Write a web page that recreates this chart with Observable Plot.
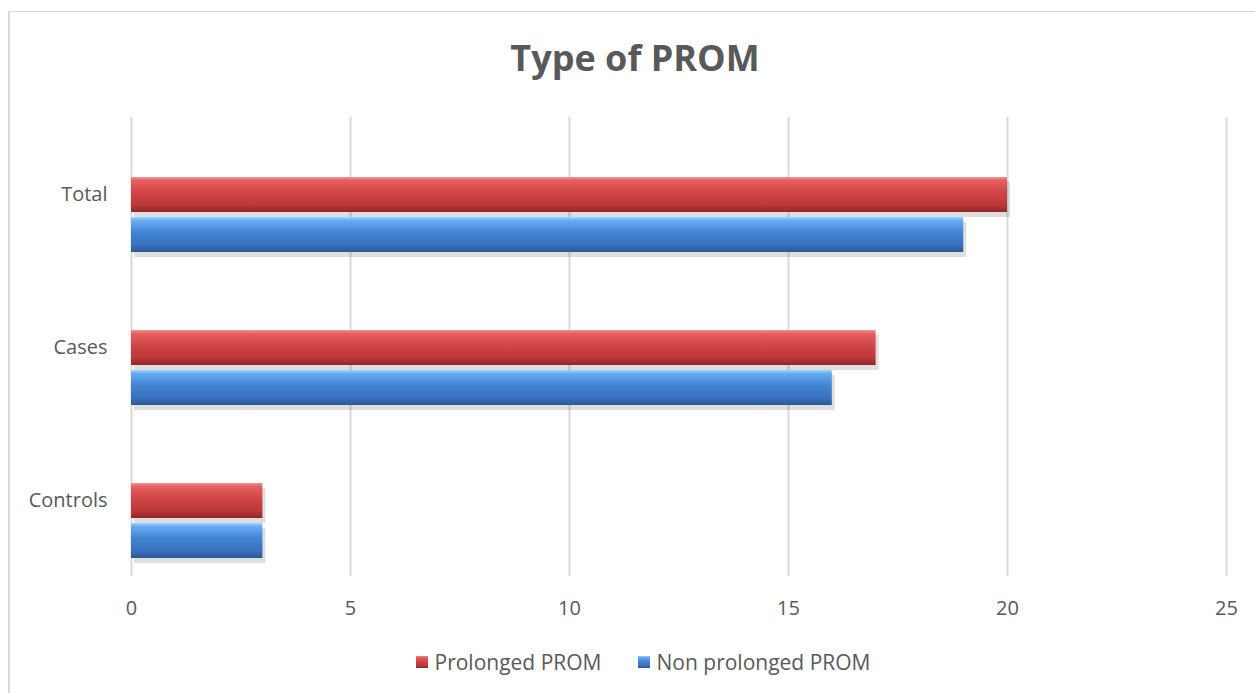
<!DOCTYPE html>
<html><head><meta charset="utf-8">
<script src="https://cdn.jsdelivr.net/npm/d3@7"></script>
<script src="https://cdn.jsdelivr.net/npm/@observablehq/plot@0.6"></script>
<style>
body{margin:0;background:#fff;width:1255px;height:693px;overflow:hidden;position:relative;font-family:"Open Sans",sans-serif;color:#595959;}
#frame{position:absolute;left:8px;top:11px;width:1400px;height:800px;border-left:2px solid #d9d9d9;border-top:1px solid #d9d9d9;}
#title{position:absolute;left:0;top:34px;width:1270px;text-align:center;font-weight:700;font-size:36px;line-height:48px;color:#595959;}
#chart{position:absolute;left:0;top:95px;}
#legend{position:absolute;left:0;top:647px;width:1286px;display:flex;justify-content:center;gap:36px;font-size:21px;line-height:30px;color:#595959;}
#legend .item{display:flex;align-items:center;gap:7px;}
#legend .sw{width:12px;height:12px;display:inline-block;}
</style></head><body>
<div id="frame"></div>
<div id="title">Type of PROM</div>
<div id="chart"></div>
<div id="legend"></div>
<script>
const categories = ["Total", "Cases", "Controls"];
const seriesNames = ["Prolonged PROM", "Non prolonged PROM"];
const prolonged = [20, 17, 3];
const nonProlonged = [19, 16, 3];
const xTicks = [0, 5, 10, 15, 20, 25];
const gradStops = [
  [["0%","#f49292"],["10%","#e66060"],["45%","#d04444"],["80%","#bc3838"],["100%","#8e2828"]],
  [["0%","#a4d4ff"],["10%","#66acf2"],["45%","#4184d3"],["80%","#3872bd"],["100%","#2c5892"]]
];

const table = categories.flatMap((c, i) => [
  {category: c, series: seriesNames[0], value: prolonged[i]},
  {category: c, series: seriesNames[1], value: nonProlonged[i]}
]);

const gradIds = ["gradRed", "gradBlue"];
function defsMark() {
  const defs = d3.create("svg:defs");
  gradIds.forEach((id, k) => {
    const g = defs.append("linearGradient").attr("id", id).attr("x1", 0).attr("y1", 0).attr("x2", 0).attr("y2", 1);
    gradStops[k].forEach(([o, c]) => g.append("stop").attr("offset", o).attr("stop-color", c));
  });
  return defs.node();
}

const chart = Plot.plot({
  width: 1255,
  height: 545,
  marginLeft: 131,
  marginRight: 29,
  marginTop: 21,
  marginBottom: 63,
  style: {fontFamily: "Open Sans", fontSize: "20px", color: "#595959", background: "transparent", overflow: "visible"},
  x: {domain: [0, 25], ticks: xTicks, tickSize: 0, tickPadding: 24, label: null},
  y: {domain: seriesNames, paddingInner: 0.122, paddingOuter: 0.939, align: 0.766, axis: null},
  fy: {domain: categories, padding: 0, axis: null},
  marks: [
    defsMark,
    Plot.gridX(xTicks, {stroke: "#d9d9d9", strokeWidth: 2, strokeOpacity: 1}),
    Plot.barX(table, {x: "value", y: "series", fy: "category", fill: "#000", fillOpacity: 0.13, dx: 3, dy: 5}),
    Plot.barX(table.filter(d => d.series === seriesNames[0]), {x: "value", y: "series", fy: "category", fill: `url(#${gradIds[0]})`}),
    Plot.barX(table.filter(d => d.series === seriesNames[1]), {x: "value", y: "series", fy: "category", fill: `url(#${gradIds[1]})`}),
    Plot.text(table.filter(d => d.series === seriesNames[0]), {x: 0, y: "series", fy: "category", text: "category", textAnchor: "end", dx: -24, fill: "#595959", fontSize: 20})
  ]
});
document.getElementById("chart").appendChild(chart);

const legend = document.getElementById("legend");
seriesNames.forEach((name, k) => {
  const item = document.createElement("div");
  item.className = "item";
  const sw = document.createElement("span");
  sw.className = "sw";
  sw.style.background = `linear-gradient(${gradStops[k].map(([o, c]) => c + " " + o).join(",")})`;
  const label = document.createElement("span");
  label.textContent = name;
  item.appendChild(sw);
  item.appendChild(label);
  legend.appendChild(item);
});
</script>
</body></html>
